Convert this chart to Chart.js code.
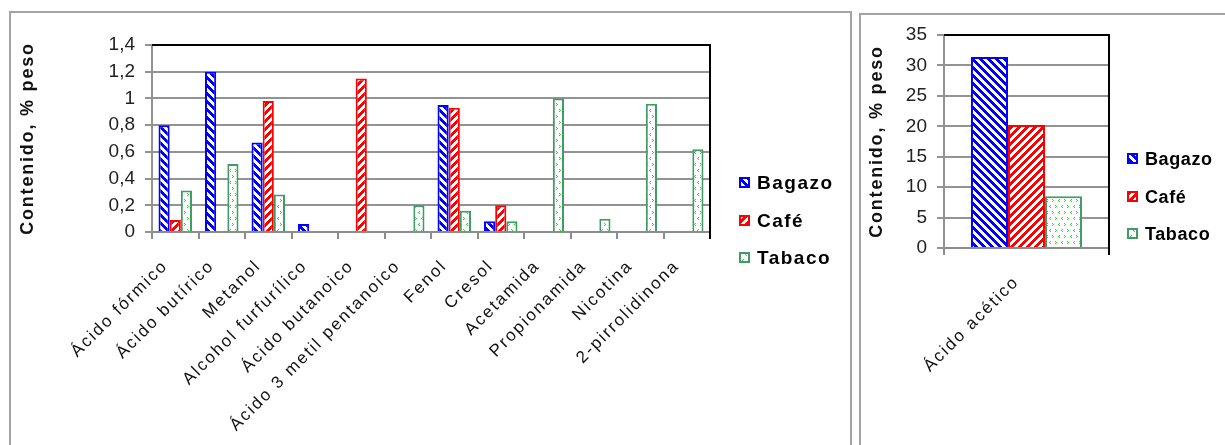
<!DOCTYPE html>
<html>
<head>
<meta charset="utf-8">
<script src="https://cdn.jsdelivr.net/npm/chart.js@4.4.1/dist/chart.umd.min.js"></script>
<style>
  html, body { margin: 0; padding: 0; background: #fff; }
  body { width: 1225px; height: 445px; position: relative; overflow: hidden; font-family: "Liberation Sans", Arial, sans-serif; }
  .panel { position: absolute; border: 2px solid #a4a4a4; box-sizing: border-box; }
  #p1 { left: 9px; top: 11px; width: 843px; height: 480px; }
  #p2 { left: 859px; top: 13px; width: 420px; height: 480px; }
  canvas { position: absolute; top: 0; }
  #c1 { left: 0; width: 852px; height: 445px; }
  #c2 { left: 856px; width: 369px; height: 445px; }
</style>
</head>
<body>
<div class="panel" id="p1"></div>
<div class="panel" id="p2"></div>
<canvas id="c1" width="852" height="445"></canvas>
<canvas id="c2" width="369" height="445"></canvas>
<script>
// Compuestos minoritarios (% peso)
const compounds = ['Ácido fórmico', 'Ácido butírico', 'Metanol', 'Alcohol furfurílico',
  'Ácido butanoico', 'Ácido 3 metil pentanoico', 'Fenol', 'Cresol', 'Acetamida',
  'Propionamida', 'Nicotina', '2-pirrolidinona'];
const bagazo = [0.80, 1.20, 0.67, 0.06, null, null, 0.95, 0.08, null, null, null, null];
const cafe   = [0.09, null, 0.98, null, 1.15, null, 0.93, 0.20, null, null, null, null];
const tabaco = [0.31, 0.51, 0.28, null, null, 0.20, 0.16, 0.08, 1.00, 0.10, 0.96, 0.62];
const leftTicks = ['0', '0,2', '0,4', '0,6', '0,8', '1', '1,2', '1,4'];

// Ácido acético (% peso)
const aceticLabel = ['Ácido acético'];
const bagazoAcetic = [31.4];
const cafeAcetic = [20.2];
const tabacoAcetic = [8.5];
const rightTicks = ['0', '5', '10', '15', '20', '25', '30', '35'];

const seriesNames = ['Bagazo', 'Café', 'Tabaco'];

// --- fill patterns -------------------------------------------------------
function stripeTile(color, dir) {
  const n = 8, c = document.createElement('canvas');
  c.width = c.height = n;
  const g = c.getContext('2d');
  g.fillStyle = '#fff'; g.fillRect(0, 0, n, n);
  g.fillStyle = color;
  for (let y = 0; y < n; y++) for (let x = 0; x < n; x++) {
    const k = dir > 0 ? (x - y + 2 * n) % n : (x + y) % n;
    if (k < 4) g.fillRect(x, y, 1, 1);
  }
  return c;
}
function dotTile() {
  const n = 12, c = document.createElement('canvas');
  c.width = c.height = n;
  const g = c.getContext('2d');
  g.fillStyle = '#fff'; g.fillRect(0, 0, n, n);
  g.fillStyle = '#2bd52b';
  const marks = [[1, 1, '<'], [7, 1, '>'], [4, 7, '>'], [10, 7, '<']];
  marks.forEach(([x, y, m]) => {
    if (m === '<') { g.fillRect(x + 1, y, 1, 1); g.fillRect(x, y + 1, 1, 1); g.fillRect(x + 1, y + 2, 1, 1); }
    else { g.fillRect(x, y, 1, 1); g.fillRect(x + 1, y + 1, 1, 1); g.fillRect(x, y + 2, 1, 1); }
  });
  return c;
}
function patternsFor(canvas) {
  const ctx = canvas.getContext('2d');
  return {
    blue: ctx.createPattern(stripeTile('#0000ff', 1), 'repeat'),
    red: ctx.createPattern(stripeTile('#ff0000', -1), 'repeat'),
    green: ctx.createPattern(dotTile(), 'repeat')
  };
}

// --- plugins -------------------------------------------------------------
// legend drawn beside the plot, at fixed spots
const sideLegend = {
  id: 'sideLegend',
  afterDraw(chart, args, o) {
    const ctx = chart.ctx;
    ctx.save();
    chart.data.datasets.forEach((ds, i) => {
      const y = Math.round(o.top + i * o.gap);
      const bx = o.left, by = y - Math.round(o.box / 2);
      ctx.fillStyle = ds.backgroundColor;
      ctx.fillRect(bx, by, o.box, o.box);
      ctx.strokeStyle = ds.borderColor;
      ctx.lineWidth = 2;
      ctx.strokeRect(bx + 1, by + 1, o.box - 2, o.box - 2);
      ctx.fillStyle = '#000';
      ctx.font = o.font;
      ctx.letterSpacing = o.spacing;
      ctx.textBaseline = 'middle';
      ctx.textAlign = 'left';
      ctx.fillText(ds.label, bx + o.box + o.textGap, y + 1);
    });
    ctx.restore();
  }
};

// dark top and right edges of the plot area
const plotFrame = {
  id: 'plotFrame',
  afterDatasetsDraw(chart) {
    const { ctx, chartArea: a } = chart;
    ctx.save();
    ctx.strokeStyle = '#000';
    ctx.lineWidth = 2;
    ctx.beginPath();
    ctx.moveTo(a.left, a.top);
    ctx.lineTo(a.right, a.top);
    ctx.lineTo(a.right, a.bottom + 7);
    ctx.stroke();
    ctx.restore();
  }
};

// letter spacing for scale labels / titles
const spacedText = {
  id: 'spacedText',
  afterLayout(chart, args, o) {
    Object.values(chart.scales).forEach(s => {
      const sp = o[s.id];
      if (!sp || s._spaced) return;
      ['drawLabels', 'drawTitle'].forEach(name => {
        if (!sp[name]) return;
        const f = s[name];
        s[name] = function (...a) {
          const c = this.ctx, prev = c.letterSpacing;
          c.letterSpacing = sp[name];
          f.apply(this, a);
          c.letterSpacing = prev;
        };
      });
      s._spaced = true;
    });
  }
};

Chart.defaults.font.family = '"Liberation Sans", Arial, sans-serif';

function makeChart(canvas, labels, series, cfg) {
  const p = patternsFor(canvas);
  const fills = [p.blue, p.red, p.green];
  const borders = ['#0000ff', '#ff0000', '#3f9c66'];
  return new Chart(canvas, {
    type: 'bar',
    data: {
      labels: labels,
      datasets: series.map((d, i) => ({
        label: seriesNames[i],
        data: d,
        backgroundColor: fills[i],
        borderColor: borders[i],
        borderWidth: 2
      }))
    },
    plugins: [sideLegend, plotFrame, spacedText],
    options: {
      responsive: false,
      animation: false,
      events: [],
      layout: { padding: cfg.padding },
      datasets: { bar: { barPercentage: 1, categoryPercentage: cfg.catPct } },
      plugins: {
        legend: { display: false },
        tooltip: { enabled: false },
        sideLegend: cfg.legend,
        spacedText: { x: { drawLabels: '2px' }, y: { drawTitle: '1.8px' } }
      },
      scales: {
        x: {
          afterFit: s => { s.height = cfg.xHeight; },
          grid: { display: true, drawOnChartArea: false, drawTicks: true, tickLength: 7, color: '#8c8c8c', lineWidth: 2, offset: true },
          border: { color: '#8c8c8c', width: 2 },
          ticks: { autoSkip: false, minRotation: 45, maxRotation: 45, color: '#111', font: { size: 17 }, padding: 17, labelOffset: -10 }
        },
        y: {
          min: 0, max: cfg.max,
          afterFit: s => { s.width = cfg.yWidth; },
          ticks: { stepSize: cfg.step, callback: (v, i) => cfg.tickLabels[i], color: '#222', font: { size: 19 }, padding: 10 },
          grid: { color: '#939393', lineWidth: 2, tickLength: 7 },
          border: { color: '#939393', width: 2 },
          title: { display: true, text: 'Contenido, % peso', color: '#111', font: { size: 18, weight: 'bold' }, padding: { top: cfg.titlePad, bottom: 0 } }
        }
      }
    }
  });
}

makeChart(document.getElementById('c1'), compounds, [bagazo, cafe, tabaco], {
  padding: { left: 12, top: 45, right: 142, bottom: 0 },
  xHeight: 213, yWidth: 140, max: 1.4, step: 0.2, tickLabels: leftTicks,
  catPct: 0.72, titlePad: 5,
  legend: { left: 739, top: 183, gap: 37.5, box: 11, textGap: 7, font: 'bold 19px "Liberation Sans"', spacing: '1.5px' }
});

makeChart(document.getElementById('c2'), aceticLabel, [bagazoAcetic, cafeAcetic, tabacoAcetic], {
  padding: { left: 6, top: 35, right: 116, bottom: 0 },
  xHeight: 197, yWidth: 82, max: 35, step: 5, tickLabels: rightTicks,
  catPct: 0.673, titlePad: 4,
  legend: { left: 271, top: 159, gap: 37.5, box: 11, textGap: 7, font: 'bold 18px "Liberation Sans"', spacing: '0.6px' }
});
</script>
</body>
</html>
